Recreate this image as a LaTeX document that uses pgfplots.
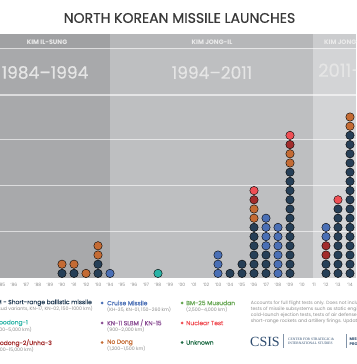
\documentclass[border=0pt]{standalone}
\usepackage{pgfplots}
\pgfplotsset{compat=1.18}
\usepackage{fontspec}
\setmainfont{Poppins}
\newfontfamily\medfont{Poppins}[FakeBold=0.6]
\newfontfamily\seriffont{Liberation Serif}
\definecolor{srbm}{HTML}{263F57}
\definecolor{nodong}{HTML}{C46B34}
\definecolor{cruise}{HTML}{4A6FB5}
\definecolor{tpone}{HTML}{2AB3A6}
\definecolor{tptwo}{HTML}{A22C2C}
\definecolor{nuke}{HTML}{EF4F55}
\definecolor{kn}{HTML}{8A4D93}
\definecolor{musudan}{HTML}{63A44F}
\definecolor{unknown}{HTML}{1F6B45}
\definecolor{bgIS}{HTML}{A8A9AB}
\definecolor{bgISn}{HTML}{A0A1A3}
\definecolor{bgJI}{HTML}{BEBFC1}
\definecolor{bgJIn}{HTML}{B6B7B9}
\definecolor{bgJU}{HTML}{D3D4D6}
\definecolor{bgJUn}{HTML}{CBCCCE}
\definecolor{subgray}{HTML}{8C8C8C}
\definecolor{csis}{HTML}{2D4B6E}
\newcommand\lt{\medfont\fontsize{6.0}{7}\selectfont}
\newcommand\ls{\fontsize{4.7}{5}\selectfont}
\begin{document}
\begin{tikzpicture}[x=1pt,y=1pt]
\useasboundingbox (0,0) rectangle (356,364);
\clip (0,0) rectangle (356,364);
\begin{scope}[shift={(0,364)},yscale=-1]
\fill[bgISn] (0,34) rectangle (110,48.5);
\fill[bgJIn] (110,34) rectangle (313,48.5);
\fill[bgJUn] (313,34) rectangle (356,48.5);
\fill[bgIS] (0,48.5) rectangle (110,278);
\fill[bgJI] (110,48.5) rectangle (313,278);
\fill[bgJU] (313,48.5) rectangle (356,278);
\draw[white,opacity=0.6,line width=1.3pt] (0,48.8)--(356,48.8);
\draw[white,opacity=0.6,line width=1.3pt] (0,95)--(356,95);
\foreach \gy in {232,186,140} \draw[white,opacity=0.6,line width=1pt] (0,\gy)--(356,\gy);
% year tick labels
\foreach \lab [count=\k from 0] in {85,86,87,88,89,90,91,92,93,94,95,96,97,98,99,00,01,02,03,04,05,06,07,08,09,10,11,12,13,14}
  \node[inner sep=0,text=subgray] at ({2+12*\k},285) {\fontsize{4.5}{5}\selectfont ’\lab};
% title
\node[inner sep=0,text=black!78] at (179.5,18) {\medfont\fontsize{14}{16}\selectfont NORTH KOREAN MISSILE LAUNCHES};
% leader names
\node[inner sep=0,text=white!92!black] at (47,42) {\fontsize{6.4}{7}\selectfont\bfseries KIM IL-SUNG};
\node[inner sep=0,text=white!92!black] at (212,42) {\fontsize{6.4}{7}\selectfont\bfseries KIM JONG-IL};
\node[inner sep=0,text=white!92!black,anchor=west] at (324,42) {\fontsize{6.4}{7}\selectfont\bfseries KIM JONG-UN};
% year spans
\node[inner sep=0,text=white!90!black] at (45,72.5) {\medfont\fontsize{17}{20}\selectfont 1984–1994};
\node[inner sep=0,text=white!90!black] at (212,72.5) {\medfont\fontsize{17}{20}\selectfont 1994–2011};
\node[inner sep=0,text=white!90!black,anchor=west] at (318,72.5) {\medfont\fontsize{18}{20}\selectfont 2011–present};
% legend column 1 (cut off at left)
\node[inner sep=0,anchor=east,text=srbm] at (92,302.7) {\lt SRBM - Short-range ballistic missile};
\node[inner sep=0,anchor=east,text=subgray] at (93,309.2) {\ls (Scud variants, KN-17, KN-02, 150–1000 km)};
\node[inner sep=0,anchor=east,text=tpone] at (28,323) {\lt Taepodong-1};
\node[inner sep=0,anchor=east,text=subgray] at (32,329.7) {\ls (800–5,000 km)};
\node[inner sep=0,anchor=east,text=tptwo] at (52,343) {\lt Taepodong-2/Unha-3};
\node[inner sep=0,anchor=east,text=subgray] at (34,350) {\ls (10,000–15,000 km)};
% legend column 2
\fill[cruise] (102,303) circle (1.5);
\node[inner sep=0,anchor=west,text=cruise] at (107,303) {\lt Cruise Missile};
\node[inner sep=0,anchor=west,text=subgray] at (107,309.5) {\ls (KH-35, KN-01, 150–260 km)};
\fill[kn] (102,323) circle (1.5);
\node[inner sep=0,anchor=west,text=kn] at (107,323) {\lt KN-11 SLBM / KN-15};
\node[inner sep=0,anchor=west,text=subgray] at (107,329.7) {\ls (900–2,000 km)};
\fill[nodong] (102,342.5) circle (1.5);
\node[inner sep=0,anchor=west,text=nodong] at (107,342.5) {\lt No Dong};
\node[inner sep=0,anchor=west,text=subgray] at (107,349) {\ls (1,200–1,500 km)};
% legend column 3
\fill[musudan] (182,303) circle (1.5);
\node[inner sep=0,anchor=west,text=musudan] at (186,303) {\lt BM-25 Musudan};
\node[inner sep=0,anchor=west,text=subgray] at (186,309.5) {\ls (2,500–4,000 km)};
\fill[nuke] (182,323) circle (1.5);
\node[inner sep=0,anchor=west,text=nuke] at (186,323) {\lt Nuclear Test};
\fill[unknown] (182,342.5) circle (1.5);
\node[inner sep=0,anchor=west,text=unknown] at (186,342.5) {\lt Unknown};
% note
\node[inner sep=0,anchor=west,text=subgray] at (250.7,303.3) {\fontsize{4.6}{5}\selectfont Accounts for full flight tests only. Does not include};
\node[inner sep=0,anchor=west,text=subgray] at (250.7,309.5) {\fontsize{4.6}{5}\selectfont tests of missile subsystems such as static engine};
\node[inner sep=0,anchor=west,text=subgray] at (250.7,315.5) {\fontsize{4.6}{5}\selectfont cold-launch ejection tests, tests of air defense};
\node[inner sep=0,anchor=west,text=subgray] at (250.7,321.3) {\fontsize{4.6}{5}\selectfont short-range rockets and artillery firings. Updated};
% CSIS logo
\node[inner sep=0,anchor=west,text=csis] at (250,341.5) {\seriffont\fontsize{14}{15}\selectfont CSIS};
\draw[csis!60,line width=0.5pt] (283,334.5)--(283,348.5);
\node[inner sep=0,anchor=west,text=csis] at (288,339) {\seriffont\fontsize{3.6}{4}\selectfont CENTER FOR STRATEGIC \&};
\node[inner sep=0,anchor=west,text=csis] at (288,343.8) {\seriffont\fontsize{3.6}{4}\selectfont INTERNATIONAL STUDIES};
\draw[csis!60,line width=0.5pt] (346,334.5)--(346,348.5);
\node[inner sep=0,anchor=west,text=csis] at (349.5,339) {\fontsize{3.8}{4}\selectfont\bfseries MISSILE};
\node[inner sep=0,anchor=west,text=csis] at (349.5,343.8) {\fontsize{3.8}{4}\selectfont\bfseries PROJECT};
\end{scope}
\begin{axis}[
  at={(0pt,86pt)}, anchor=south west,
  width=356pt, height=183pt, scale only axis,
  xmin=1984.8333, xmax=2014.5, ymin=0, ymax=19.89,
  clip=false, hide axis,
  every axis plot/.append style={only marks, mark=*, mark size=4.2pt},
]
\addplot[mark options={draw=none, fill=srbm}] coordinates {
(1990,0.5) (1991,0.5) (1993,0.5) (1993,1.5) (2004,0.5) (2005,0.5) (2005,1.5)
(2006,0.5) (2006,1.5) (2006,2.5) (2006,3.5) (2006,4.5) (2006,5.5)
(2007,0.5) (2007,1.5) (2007,2.5)
(2009,0.5) (2009,1.5) (2009,2.5) (2009,3.5) (2009,4.5) (2009,5.5) (2009,6.5) (2009,7.5) (2009,8.5) (2009,9.5) (2009,10.5) (2009,11.5)
(2012,0.5) (2012,1.5)
(2013,0.5) (2013,1.5) (2013,2.5) (2013,3.5) (2013,4.5) (2013,5.5) (2013,6.5) (2013,7.5)
(2014,0.5) (2014,1.5) (2014,2.5) (2014,3.5) (2014,4.5) (2014,5.5) (2014,6.5) (2014,7.5) (2014,8.5) (2014,9.5) (2014,10.5) (2014,11.5) (2014,12.5) (2014,13.5) (2014,14.5) (2014,15.5)
};
\addplot[mark options={draw=none, fill=nodong}] coordinates {
(1990,1.5) (1991,1.5) (1992,0.5) (1993,2.5) (1993,3.5) (2006,6.5) (2006,7.5) (2009,12.5) (2009,13.5) (2014,16.5) (2014,17.5)
};
\addplot[mark options={draw=none, fill=cruise}] coordinates {
(1994,0.5) (2003,0.5) (2003,1.5) (2003,2.5) (2007,3.5) (2007,4.5) (2007,5.5) (2007,6.5)
(2008,0.5) (2008,1.5) (2008,2.5) (2008,3.5) (2008,4.5) (2008,5.5) (2012,4.5) (2012,5.5)
};
\addplot[mark options={draw=none, fill=tpone}] coordinates {(1998,0.5)};
\addplot[mark options={draw=none, fill=tptwo}] coordinates {(2006,8.5) (2009,14.5) (2012,2.5) (2012,3.5)};
\addplot[mark options={draw=none, fill=nuke}] coordinates {(2006,9.5) (2009,15.5) (2013,8.5)};
\end{axis}
\end{tikzpicture}
\end{document}
